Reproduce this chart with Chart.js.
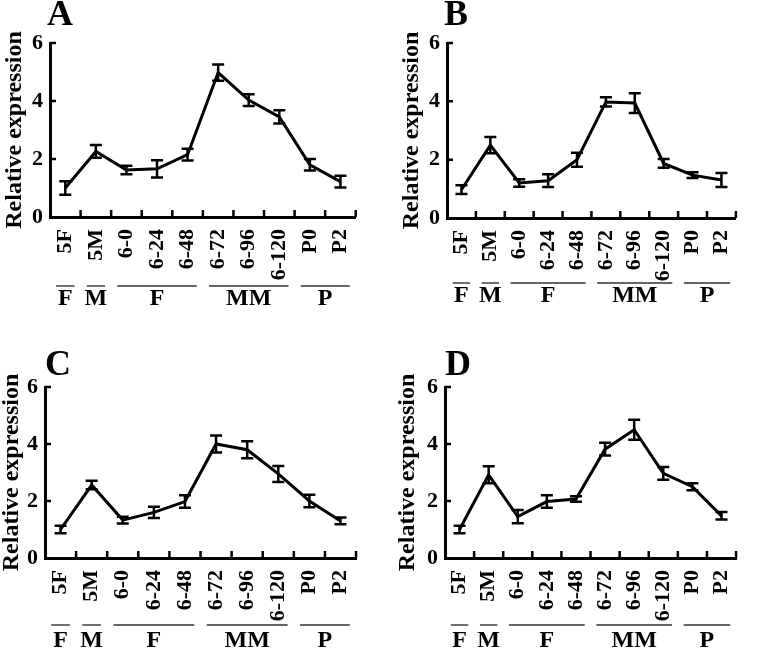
<!DOCTYPE html>
<html>
<head>
<meta charset="utf-8">
<script src="https://cdn.jsdelivr.net/npm/chart.js@4/dist/chart.umd.min.js"></script>
<style>
  body { margin: 0; background: #fff; }
  #figure { position: relative; width: 760px; height: 648px; overflow: hidden; background: #fff; }
  .panel { position: absolute; width: 380px; height: 324px; }
</style>
</head>
<body>
<div id="figure">
  <div class="panel" style="left:0;top:0"><canvas id="chart-a" width="380" height="324"></canvas></div>
  <div class="panel" style="left:380px;top:0"><canvas id="chart-b" width="380" height="324"></canvas></div>
  <div class="panel" style="left:0;top:324px"><canvas id="chart-c" width="380" height="324"></canvas></div>
  <div class="panel" style="left:380px;top:324px"><canvas id="chart-d" width="380" height="324"></canvas></div>
</div>
<script>
const categories = ['5F', '5M', '6-0', '6-24', '6-48', '6-72', '6-96', '6-120', 'P0', 'P2'];
const groupLabels = ['F', 'M', 'F', 'MM', 'P'];
const groupStart = [0, 1, 2, 5, 8];
const groupEnd = [0, 1, 4, 7, 9];
const yTicks = [0, 2, 4, 6];

const meanA = [1.0, 2.26, 1.62, 1.66, 2.15, 4.98, 4.03, 3.45, 1.8, 1.22];
const errA = [0.23, 0.22, 0.15, 0.3, 0.2, 0.28, 0.2, 0.23, 0.2, 0.2];
const meanB = [0.97, 2.5, 1.2, 1.28, 2.0, 3.98, 3.94, 1.87, 1.47, 1.3];
const errB = [0.15, 0.28, 0.13, 0.22, 0.24, 0.16, 0.34, 0.15, 0.1, 0.24];
const meanC = [1.0, 2.56, 1.33, 1.6, 1.98, 4.0, 3.8, 2.95, 2.0, 1.3];
const errC = [0.13, 0.15, 0.12, 0.2, 0.22, 0.3, 0.3, 0.28, 0.22, 0.12];
const meanD = [1.0, 2.92, 1.45, 1.98, 2.07, 3.82, 4.5, 2.97, 2.5, 1.48];
const errD = [0.13, 0.3, 0.23, 0.22, 0.1, 0.22, 0.35, 0.22, 0.12, 0.13];

const SERIF = '"Liberation Serif", "Times New Roman", serif';

// error bars, inward ticks, panel letter and the stage groups under the axis
const decorations = {
  id: 'decorations',
  afterDatasetsDraw(chart, args, opts) {
    const { ctx, scales: { x, y } } = chart;
    const means = chart.data.datasets[0].data;
    ctx.save();
    ctx.strokeStyle = '#000';
    ctx.lineWidth = 2.5;
    means.forEach((m, i) => {
      const px = x.getPixelForValue(i);
      const top = y.getPixelForValue(m + opts.errors[i]);
      const bot = y.getPixelForValue(m - opts.errors[i]);
      ctx.beginPath();
      ctx.moveTo(px, top); ctx.lineTo(px, bot);
      ctx.moveTo(px - 6, top); ctx.lineTo(px + 6, top);
      ctx.moveTo(px - 6, bot); ctx.lineTo(px + 6, bot);
      ctx.stroke();
    });
    ctx.restore();
  },
  afterDraw(chart, args, opts) {
    const { ctx, chartArea, scales: { x, y } } = chart;
    const step = x.getPixelForValue(1) - x.getPixelForValue(0);
    ctx.save();
    ctx.strokeStyle = '#000';
    ctx.lineWidth = 2.5;
    ctx.beginPath();
    for (let i = 0; i < categories.length; i++) {
      const bx = x.getPixelForValue(i) + step / 2;
      ctx.moveTo(bx, chartArea.bottom);
      ctx.lineTo(bx, chartArea.bottom - 7);
    }
    yTicks.slice(1).forEach(v => {
      const py = y.getPixelForValue(v);
      ctx.moveTo(chartArea.left, py);
      ctx.lineTo(chartArea.left + 6, py);
    });
    ctx.stroke();

    // panel letter
    ctx.fillStyle = '#000';
    ctx.font = 'bold 36px ' + SERIF;
    ctx.textAlign = 'left';
    ctx.textBaseline = 'alphabetic';
    ctx.fillText(opts.letter, chartArea.left + opts.letterDx, chartArea.top - opts.letterUp);

    // groups
    ctx.strokeStyle = '#333';
    ctx.lineWidth = 1.4;
    ctx.font = 'bold 24px ' + SERIF;
    ctx.textAlign = 'center';
    ctx.textBaseline = 'middle';
    groupLabels.forEach((g, k) => {
      const x0 = x.getPixelForValue(groupStart[k]) - step * 0.3;
      const x1 = x.getPixelForValue(groupEnd[k]) + step * 0.3;
      const ly = chartArea.bottom + opts.lineDown;
      ctx.beginPath();
      ctx.moveTo(x0, ly); ctx.lineTo(x1, ly);
      ctx.stroke();
      ctx.fillText(g, (x0 + x1) / 2, chartArea.bottom + opts.labelDown);
    });
    ctx.restore();
  }
};

function makePanel(id, means, errors, p) {
  const ctx = document.getElementById(id).getContext('2d');
  return new Chart(ctx, {
    type: 'line',
    data: {
      labels: categories,
      datasets: [{
        data: means,
        borderColor: '#000',
        borderWidth: 3,
        pointRadius: 0,
        tension: 0
      }]
    },
    options: {
      responsive: false,
      animation: false,
      layout: {
        padding: { left: p.padLeft, top: p.top, right: 380 - p.right, bottom: 0 }
      },
      scales: {
        x: {
          type: 'category',
          offset: true,
          grid: { display: false, drawTicks: false, offset: true },
          border: { display: true, color: '#000', width: 3 },
          ticks: {
            color: '#000',
            font: { family: SERIF, size: 22, weight: 'bold' },
            minRotation: 90,
            maxRotation: 90,
            padding: 12,
            autoSkip: false
          },
          afterFit(scale) { scale.height = 324 - p.bottom; }
        },
        y: {
          min: 0,
          max: 6,
          afterBuildTicks(scale) { scale.ticks = yTicks.map(v => ({ value: v })); },
          grid: { display: false, drawTicks: false },
          border: { display: true, color: '#000', width: 3 },
          ticks: {
            color: '#000',
            font: { family: SERIF, size: 22, weight: 'bold' },
            padding: 7
          },
          title: {
            display: true,
            text: 'Relative expression',
            color: '#000',
            font: { family: SERIF, size: 24, weight: 'bold', lineHeight: 1 },
            padding: 0
          },
          afterFit(scale) { scale.width = p.left - p.padLeft; }
        }
      },
      plugins: {
        legend: { display: false },
        tooltip: { enabled: false },
        decorations: {
          errors: errors,
          letter: p.letter,
          letterDx: p.letterDx,
          letterUp: p.letterUp,
          lineDown: p.lineDown,
          labelDown: p.labelDown
        }
      }
    },
    plugins: [decorations]
  });
}

makePanel('chart-a', meanA, errA, { letter: 'A', left: 50, right: 357, top: 43, bottom: 217, padLeft: 3, letterDx: -3, letterUp: 18, lineDown: 69, labelDown: 82 });
makePanel('chart-b', meanB, errB, { letter: 'B', left: 67, right: 377, top: 43, bottom: 218, padLeft: 20, letterDx: -3, letterUp: 18, lineDown: 65, labelDown: 78 });
makePanel('chart-c', meanC, errC, { letter: 'C', left: 45, right: 358, top: 63, bottom: 234, padLeft: 0, letterDx: 0, letterUp: 12, lineDown: 67, labelDown: 83 });
makePanel('chart-d', meanD, errD, { letter: 'D', left: 65, right: 378, top: 63, bottom: 234, padLeft: 16, letterDx: 0, letterUp: 12, lineDown: 67, labelDown: 83 });
</script>
</body>
</html>
